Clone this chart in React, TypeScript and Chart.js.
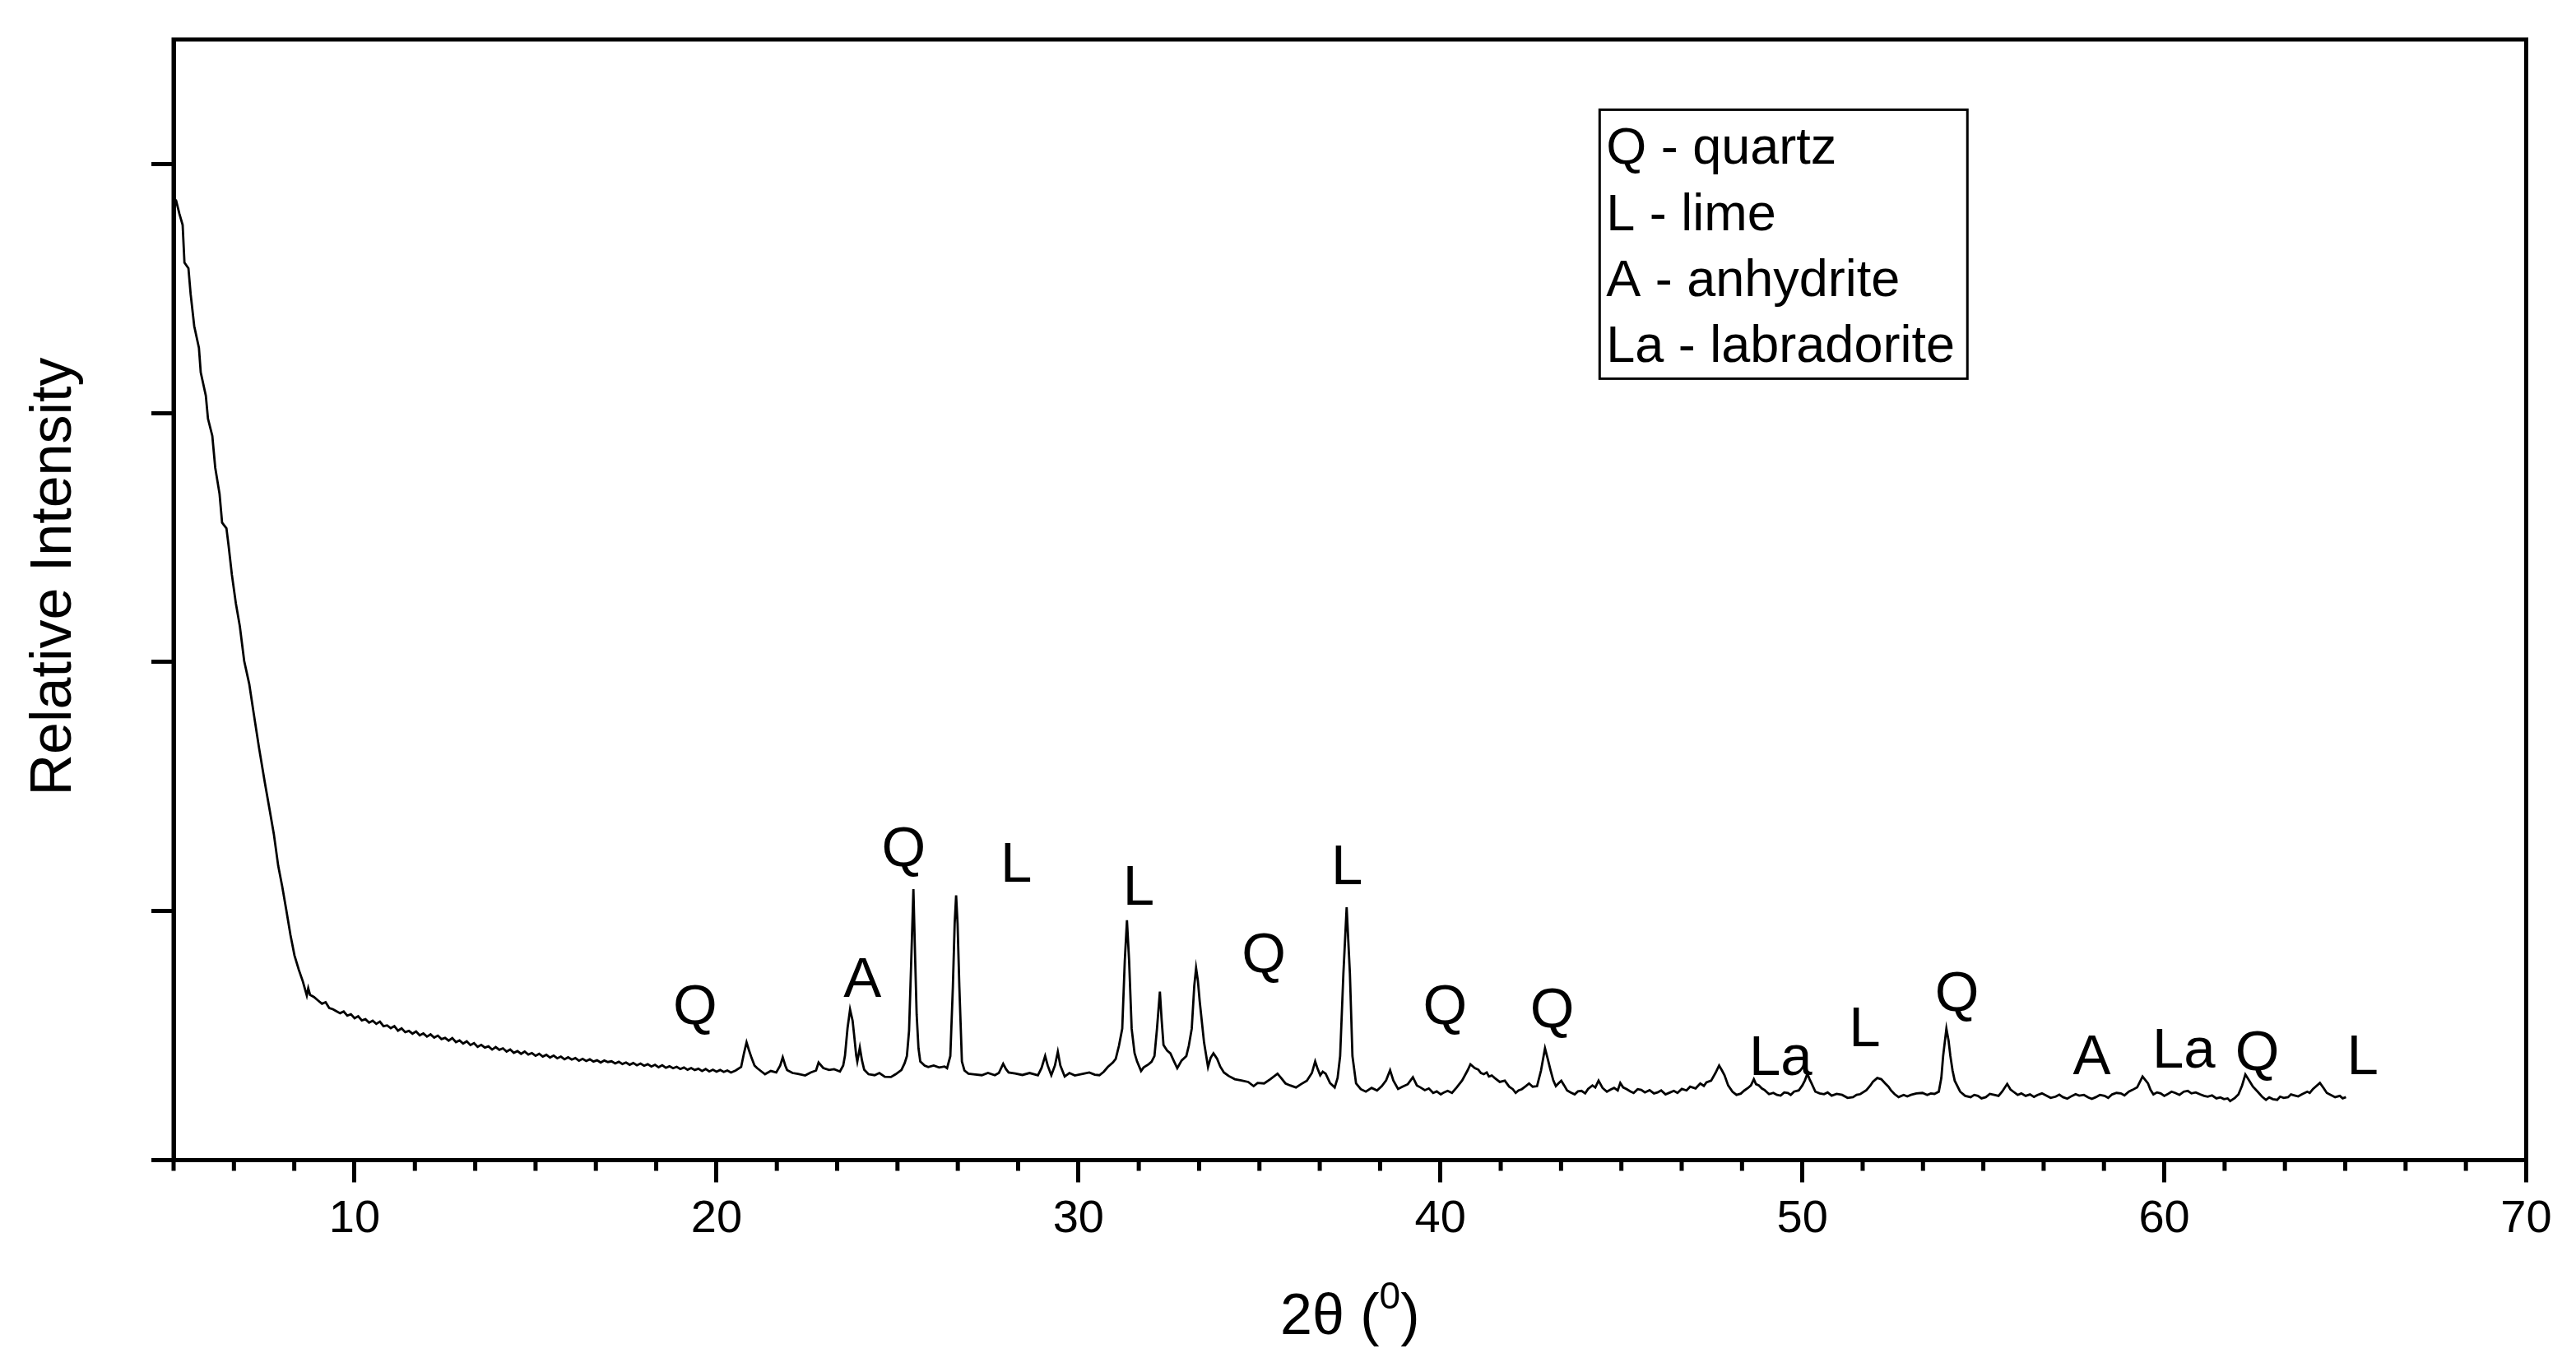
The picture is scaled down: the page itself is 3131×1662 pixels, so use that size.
import React, { useEffect, useRef } from 'react';
import { Chart, registerables } from 'chart.js';

Chart.register(...registerables);

// ---- data: [2θ (deg), relative intensity (arb. units, 1000 per y tick)] ----
const scanLowAngle: [number, number][] = [
  [5.03, 3859], [5.07, 3853], [5.16, 3800], [5.25, 3755], [5.30, 3604], [5.41, 3581], [5.47, 3479],
  [5.57, 3349], [5.70, 3262], [5.75, 3163], [5.89, 3070], [5.95, 2977], [6.07, 2908], [6.15, 2781],
  [6.27, 2675], [6.34, 2560], [6.46, 2537], [6.52, 2467], [6.61, 2351], [6.72, 2236], [6.83, 2144],
  [6.95, 2005], [7.09, 1912], [7.21, 1797], [7.36, 1656], [7.52, 1517], [7.66, 1401], [7.77, 1309],
  [7.89, 1182], [8.00, 1100], [8.11, 1007], [8.23, 903], [8.34, 822], [8.46, 764], [8.57, 718],
  [8.68, 661], [8.72, 690], [8.77, 664], [8.88, 655],
];

const scanBaseline: [number, number][] = [
  [9.0, 640], [9.1, 628], [9.2, 634], [9.3, 611], [9.4, 606], [9.5, 598], [9.6, 590], [9.7, 597],
  [9.8, 580], [9.9, 586], [10.0, 570], [10.1, 578], [10.2, 561], [10.3, 566], [10.4, 552], [10.5, 560],
  [10.6, 547], [10.7, 556], [10.8, 538], [10.9, 541], [11.0, 530], [11.1, 538], [11.2, 520], [11.3, 529],
  [11.4, 514], [11.5, 519], [11.6, 508], [11.7, 517], [11.8, 501], [11.9, 509], [12.0, 496], [12.1, 505],
  [12.2, 492], [12.3, 500], [12.4, 486], [12.5, 491], [12.6, 480], [12.7, 490], [12.8, 474], [12.9, 481],
  [13.0, 468], [13.1, 477], [13.2, 462], [13.3, 470], [13.4, 455], [13.5, 463], [13.6, 452], [13.7, 457],
  [13.8, 444], [13.9, 454], [14.0, 443], [14.1, 449], [14.2, 436], [14.3, 444], [14.4, 431], [14.5, 438],
  [14.6, 427], [14.7, 436], [14.8, 424], [14.9, 430], [15.0, 419], [15.1, 427], [15.2, 416], [15.3, 423],
  [15.4, 412], [15.5, 420], [15.6, 409], [15.7, 416], [15.8, 405], [15.9, 413], [16.0, 404], [16.1, 410],
  [16.2, 399], [16.3, 407], [16.4, 398], [16.5, 405], [16.6, 396], [16.7, 401], [16.8, 392], [16.9, 400],
  [17.0, 394], [17.1, 397], [17.2, 388], [17.3, 395], [17.4, 386], [17.5, 392], [17.6, 383], [17.7, 390],
  [17.8, 381], [17.9, 388], [18.0, 379], [18.1, 385], [18.2, 376], [18.3, 383], [18.4, 373], [18.5, 381],
  [18.6, 371], [18.7, 377], [18.8, 369], [18.9, 375], [19.0, 366], [19.1, 372], [19.2, 363], [19.3, 370],
  [19.4, 362], [19.5, 367], [19.6, 358], [19.7, 366], [19.8, 356], [19.9, 363], [20.0, 355], [20.1, 362],
  [20.2, 354], [20.3, 360], [20.4, 352], [20.53, 360],
];

const scanMain: [number, number][] = [
  [20.68, 374], [20.76, 430], [20.83, 473], [20.90, 440], [20.97, 410], [21.05, 380], [21.12, 370],
  [21.25, 355], [21.34, 345], [21.50, 358], [21.65, 352], [21.76, 380], [21.83, 413], [21.90, 380],
  [21.95, 362], [22.10, 350], [22.25, 346], [22.45, 340], [22.60, 352], [22.75, 360], [22.82, 392],
  [22.95, 370], [23.11, 362], [23.25, 365], [23.41, 356], [23.50, 380], [23.55, 420], [23.62, 530],
  [23.69, 605], [23.76, 560], [23.80, 506], [23.86, 420], [23.89, 396], [23.96, 452], [24.02, 400],
  [24.08, 363], [24.20, 345], [24.37, 341], [24.50, 350], [24.65, 335], [24.82, 334], [24.95, 345],
  [25.11, 362], [25.20, 390], [25.26, 418], [25.32, 520], [25.38, 800], [25.44, 1088], [25.49, 800],
  [25.53, 584], [25.58, 450], [25.63, 396], [25.75, 380], [25.85, 374], [26.00, 380], [26.15, 372],
  [26.30, 376], [26.37, 369], [26.46, 418], [26.53, 694], [26.58, 950], [26.62, 1063], [26.66, 950],
  [26.71, 694], [26.78, 396], [26.85, 360], [26.96, 347], [27.10, 345], [27.33, 341], [27.50, 350],
  [27.69, 341], [27.80, 350], [27.92, 387], [28.00, 365], [28.07, 352], [28.25, 348], [28.45, 342],
  [28.65, 350], [28.88, 341], [28.98, 370], [29.08, 418], [29.15, 380], [29.25, 341], [29.35, 380],
  [29.43, 435], [29.50, 380], [29.62, 336], [29.75, 350], [29.90, 340], [30.14, 347], [30.30, 352],
  [30.45, 343], [30.58, 341], [30.70, 355], [30.81, 374], [30.95, 392], [31.03, 407], [31.12, 460],
  [31.21, 528], [31.28, 800], [31.34, 963], [31.40, 800], [31.47, 528], [31.55, 430], [31.62, 396],
  [31.73, 358], [31.80, 372], [31.94, 385], [32.02, 395], [32.10, 418], [32.17, 528], [32.25, 677],
  [32.30, 560], [32.35, 462], [32.45, 440], [32.54, 429], [32.63, 400], [32.73, 369], [32.85, 400],
  [32.98, 418], [33.05, 460], [33.13, 528], [33.20, 700], [33.25, 771], [33.30, 720], [33.35, 638],
  [33.47, 473], [33.58, 374], [33.65, 410], [33.73, 429], [33.83, 407], [33.92, 375],
];

const scanMid: [number, number][] = [
  [34.02, 352], [34.15, 338], [34.32, 325], [34.50, 320], [34.69, 314], [34.84, 297], [34.95, 310],
  [35.13, 308], [35.30, 325], [35.50, 347], [35.60, 330], [35.72, 308], [35.85, 300], [36.01, 292],
  [36.15, 305], [36.31, 319], [36.45, 350], [36.54, 396], [36.60, 370], [36.68, 341], [36.75, 355],
  [36.83, 347], [36.95, 310], [37.08, 292], [37.16, 330], [37.23, 418], [37.32, 749], [37.41, 1015],
  [37.50, 749], [37.57, 418], [37.67, 308], [37.80, 285], [37.94, 275], [38.10, 290], [38.25, 280],
  [38.38, 297], [38.50, 320], [38.61, 361], [38.70, 320], [38.83, 286], [38.95, 295], [39.10, 305],
  [39.24, 333], [39.35, 300], [39.45, 292], [39.57, 281], [39.68, 288], [39.80, 270], [39.9, 276],
  [40.01, 264], [40.1, 272], [40.20, 278], [40.32, 270], [40.45, 292], [40.60, 320], [40.75, 360],
  [40.83, 385], [40.95, 370], [41.05, 363], [41.12, 350], [41.20, 345], [41.28, 352], [41.34, 336],
  [41.42, 340], [41.50, 330], [41.64, 314], [41.78, 319], [41.90, 295], [42.0, 285], [42.08, 270],
  [42.16, 280], [42.25, 285], [42.35, 296], [42.45, 308], [42.55, 295], [42.67, 297], [42.78, 360],
  [42.89, 449], [42.96, 410], [43.04, 363], [43.12, 320], [43.19, 297], [43.26, 308], [43.34, 319],
  [43.42, 300], [43.50, 280], [43.6, 272], [43.71, 264], [43.8, 276], [43.90, 278], [44.0, 268],
  [44.08, 286], [44.2, 300], [44.28, 292], [44.37, 319], [44.48, 290], [44.6, 275], [44.7, 283],
  [44.80, 290], [44.9, 280], [44.97, 310], [45.05, 292], [45.15, 285], [45.25, 276], [45.34, 270],
  [45.45, 285], [45.55, 282], [45.65, 272], [45.78, 281], [45.9, 268], [46.0, 272], [46.1, 280],
  [46.22, 264], [46.35, 272], [46.45, 278], [46.55, 270], [46.67, 286], [46.8, 280], [46.9, 295],
  [47.05, 288], [47.18, 308], [47.28, 298], [47.35, 312], [47.48, 319], [47.60, 350], [47.70, 380],
  [47.78, 360], [47.85, 341], [47.95, 300],
];

const scanHigh: [number, number][] = [
  [48.07, 275], [48.18, 262], [48.30, 267], [48.4, 280], [48.50, 290], [48.58, 300], [48.66, 325],
  [48.72, 305], [48.80, 300], [48.88, 288], [48.96, 281], [49.08, 265], [49.20, 270], [49.3, 262],
  [49.40, 259], [49.5, 272], [49.60, 270], [49.68, 262], [49.77, 275], [49.9, 280], [50.00, 300],
  [50.07, 320], [50.14, 347], [50.2, 325], [50.25, 310], [50.36, 275], [50.48, 268], [50.60, 265],
  [50.7, 272], [50.81, 259], [50.95, 266], [51.10, 262], [51.25, 250], [51.40, 253], [51.5, 262],
  [51.60, 265], [51.77, 281], [51.88, 300], [51.95, 315], [52.07, 330], [52.18, 325], [52.29, 308],
  [52.38, 295], [52.45, 280], [52.55, 265], [52.66, 253], [52.8, 262], [52.9, 256], [53.00, 262],
  [53.15, 268], [53.32, 270], [53.45, 262], [53.55, 268], [53.65, 266], [53.77, 275], [53.84, 330],
  [53.89, 418], [53.98, 528], [54.04, 480], [54.09, 418], [54.15, 360], [54.21, 319], [54.36, 275],
  [54.50, 258], [54.65, 253], [54.75, 262], [54.85, 258], [54.95, 248], [55.07, 253], [55.18, 266],
  [55.30, 262], [55.42, 258], [55.52, 275], [55.66, 306], [55.75, 284], [55.83, 275], [55.95, 262],
  [56.05, 268], [56.17, 258], [56.29, 264], [56.4, 254], [56.50, 262], [56.62, 268], [56.74, 259],
  [56.86, 250], [57.00, 255], [57.1, 263], [57.20, 253], [57.32, 247], [57.45, 258], [57.55, 265],
  [57.65, 259], [57.78, 262], [57.90, 252], [58.0, 246], [58.11, 253], [58.22, 262], [58.35, 258],
  [58.45, 250], [58.56, 264], [58.68, 270], [58.80, 268], [58.9, 260], [59.02, 275], [59.12, 282],
  [59.25, 292], [59.40, 336], [59.55, 308], [59.62, 282], [59.70, 264], [59.8, 272], [59.90, 268],
  [60.0, 258], [60.08, 264], [60.2, 275], [60.30, 270], [60.42, 262], [60.54, 275], [60.65, 278],
  [60.75, 268], [60.87, 272], [60.99, 264], [61.1, 258], [61.20, 255], [61.32, 260], [61.44, 248],
  [61.55, 252], [61.65, 245], [61.75, 248], [61.82, 237], [61.95, 250], [62.05, 264], [62.15, 300],
  [62.24, 344], [62.35, 319], [62.45, 295], [62.58, 275], [62.70, 255], [62.81, 242], [62.9, 252],
  [63.00, 245], [63.12, 242], [63.2, 255], [63.30, 250], [63.42, 253], [63.5, 264], [63.60, 260],
  [63.7, 256], [63.80, 264], [63.95, 275], [64.02, 270], [64.11, 286], [64.30, 310], [64.40, 290],
  [64.49, 270], [64.60, 262], [64.72, 253], [64.85, 258], [64.93, 248], [65.02, 253],
];

// ---- axes ----
const xMin = 5;
const xMax = 70;
const xMajorTicks = [10, 20, 30, 40, 50, 60, 70];
const xTickLabels = ['10', '20', '30', '40', '50', '60', '70'];
const xMinorPerMajor = 6;
const yMin = 0;
const yMax = 4500;
const yTicks = [0, 1000, 2000, 3000, 4000];

// ---- phase annotations (label, 2θ of label centre, intensity at label baseline) ----
const phaseLabels = ['Q', 'A', 'Q', 'L', 'L', 'Q', 'L', 'Q', 'Q', 'La', 'L', 'Q', 'A', 'La', 'Q', 'L'];
const phaseLabelX = [19.41, 24.03, 25.17, 28.28, 31.66, 35.12, 37.42, 40.13, 43.09, 49.40, 51.72, 54.27, 58.0, 60.54, 62.57, 65.48];
const phaseLabelY = [545, 655, 1182, 1117, 1024, 756, 1107, 545, 535, 341, 457, 598, 344, 370, 363, 344];

// ---- key box ----
const legendLines = ['Q - quartz', 'L - lime', 'A - anhydrite', 'La - labradorite'];

const FONT = '"Liberation Sans", Arial, Helvetica, sans-serif';
const W = 3131;
const H = 1662;

const decorPlugin = {
  id: 'xrdDecor',
  beforeDraw(chart: any) {
    const ctx = chart.ctx;
    ctx.save();
    ctx.fillStyle = '#ffffff';
    ctx.fillRect(0, 0, chart.width, chart.height);
    ctx.restore();
  },
  afterDraw(chart: any) {
    const ctx: CanvasRenderingContext2D = chart.ctx;
    const a = chart.chartArea;
    const x = chart.scales.x;
    const y = chart.scales.y;
    ctx.save();
    ctx.strokeStyle = '#000';
    ctx.fillStyle = '#000';

    // frame
    ctx.lineWidth = 5;
    ctx.lineJoin = 'miter';
    ctx.strokeRect(a.left, a.top, a.right - a.left, a.bottom - a.top);

    // minor x ticks
    const step = (xMajorTicks[1] - xMajorTicks[0]) / xMinorPerMajor;
    ctx.beginPath();
    for (let k = 0; ; k++) {
      const v = xMin + k * step;
      if (v > xMax + 1e-6) break;
      if (xMajorTicks.some((m) => Math.abs(m - v) < 1e-6)) continue;
      const px = x.getPixelForValue(v);
      ctx.moveTo(px, a.bottom);
      ctx.lineTo(px, a.bottom + 13);
    }
    ctx.lineWidth = 5;
    ctx.stroke();

    // phase labels
    ctx.font = `69px ${FONT}`;
    ctx.textAlign = 'center';
    ctx.textBaseline = 'alphabetic';
    phaseLabels.forEach((t, i) => {
      ctx.fillText(t, x.getPixelForValue(phaseLabelX[i]), y.getPixelForValue(phaseLabelY[i]));
    });

    // key box
    const bx0 = x.getPixelForValue(44.40);
    const bx1 = x.getPixelForValue(54.56);
    const by0 = y.getPixelForValue(4218);
    const by1 = y.getPixelForValue(3138);
    ctx.lineWidth = 3;
    ctx.strokeRect(bx0, by0, bx1 - bx0, by1 - by0);
    ctx.font = `63px ${FONT}`;
    ctx.textAlign = 'left';
    const baseY = [4002, 3734, 3470, 3206];
    legendLines.forEach((t, i) => {
      ctx.fillText(t, x.getPixelForValue(44.58), y.getPixelForValue(baseY[i]));
    });

    // y title
    ctx.save();
    ctx.translate(a.left - 125, a.top + 653);
    ctx.rotate(-Math.PI / 2);
    ctx.font = `70px ${FONT}`;
    ctx.textAlign = 'center';
    ctx.fillText('Relative Intensity', 0, 0);
    ctx.restore();

    // x title: 2θ (⁰)
    const cx = (a.left + a.right) / 2;
    const by = a.bottom + 211;
    ctx.textAlign = 'left';
    ctx.font = `70px ${FONT}`;
    const p1 = '2\u03B8 (';
    const w1 = ctx.measureText(p1).width;
    const w3 = ctx.measureText(')').width;
    ctx.font = `46px ${FONT}`;
    const w2 = ctx.measureText('0').width;
    let sx = cx - (w1 + w2 + w3) / 2;
    ctx.font = `70px ${FONT}`;
    ctx.fillText(p1, sx, by);
    sx += w1;
    ctx.font = `46px ${FONT}`;
    ctx.fillText('0', sx, by - 31);
    sx += w2;
    ctx.font = `70px ${FONT}`;
    ctx.fillText(')', sx, by);

    ctx.restore();
  },
};

export default function App() {
  const ref = useRef<HTMLCanvasElement | null>(null);

  useEffect(() => {
    if (!ref.current) return;
    const points = [...scanLowAngle, ...scanBaseline, ...scanMain, ...scanMid, ...scanHigh].map(([px, py]) => ({ x: px, y: py }));
    const chart = new Chart(ref.current, {
      type: 'line',
      data: {
        datasets: [
          {
            data: points,
            borderColor: '#000',
            borderWidth: 2.8,
            pointRadius: 0,
            tension: 0,
            fill: false,
          },
        ],
      },
      options: {
        animation: false,
        responsive: false,
        devicePixelRatio: 1,
        layout: { padding: { left: 184, right: 60.5, top: 48, bottom: 134.3 } },
        plugins: { legend: { display: false }, tooltip: { enabled: false }, title: { display: false } },
        scales: {
          x: {
            type: 'linear',
            position: 'bottom',
            min: xMin,
            max: xMax,
            afterBuildTicks: (axis: any) => {
              axis.ticks = xMajorTicks.map((v) => ({ value: v }));
            },
            afterFit: (axis: any) => {
              axis.paddingLeft = 0;
              axis.paddingRight = 0;
            },
            grid: { display: true, drawOnChartArea: false, drawTicks: true, tickLength: 27, tickWidth: 5, tickColor: '#000' },
            border: { display: true, color: '#000', width: 5 },
            ticks: {
              display: true,
              autoSkip: false,
              maxRotation: 0,
              minRotation: 0,
              padding: 11.5,
              color: '#000',
              font: { family: FONT, size: 56 },
              callback: (_v: any, i: number) => xTickLabels[i],
            },
          },
          y: {
            type: 'linear',
            position: 'left',
            min: yMin,
            max: yMax,
            afterBuildTicks: (axis: any) => {
              axis.ticks = yTicks.map((v) => ({ value: v }));
            },
            grid: { display: true, drawOnChartArea: false, drawTicks: true, tickLength: 27, tickWidth: 5, tickColor: '#000' },
            border: { display: true, color: '#000', width: 5 },
            ticks: { display: false },
          },
        },
      } as any,
      plugins: [decorPlugin],
    });
    return () => chart.destroy();
  }, []);

  return (
    <div style={{ position: 'fixed', left: 0, top: 0, width: W, height: H, background: '#fff' }}>
      <canvas ref={ref} width={W} height={H} style={{ width: W, height: H, display: 'block' }} />
    </div>
  );
}
